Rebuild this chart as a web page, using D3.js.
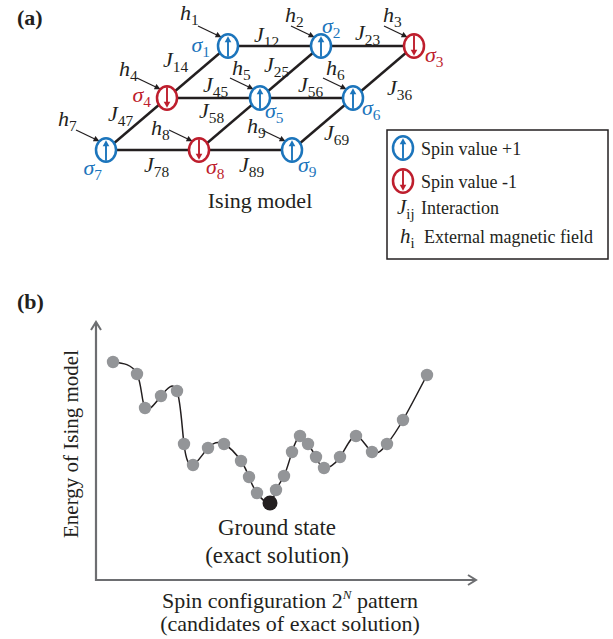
<!DOCTYPE html>
<html lang="en">
<head>
<meta charset="UTF-8">
<title>Ising model</title>
<style>
  body { margin: 0; background: #fff; }
  svg text { font-family: "Liberation Serif", "Times New Roman", serif; fill: #231f20; }
</style>
</head>
<body>
<svg id="fig" width="613" height="639"></svg>
<script src="https://d3js.org/d3.v7.min.js"></script>
<script>
// ---- panel (a) data ----
const spinIds   = [1, 2, 3, 4, 5, 6, 7, 8, 9];
const spinRows  = [0, 0, 0, 1, 1, 1, 2, 2, 2];
const spinCols  = [0, 1, 2, 0, 1, 2, 0, 1, 2];
const spinVals  = [1, 1, -1, -1, 1, 1, 1, -1, 1];
const couplings = [[1,2],[2,3],[4,5],[5,6],[7,8],[8,9],[1,4],[2,5],[3,6],[4,7],[5,8],[6,9]];
const legendLabels = ["Spin value +1", "Spin value -1", "Interaction", "External magnetic field"];

// ---- panel (b) data ----
const configs  = [17, 41, 49, 65, 81, 88, 97, 112, 128, 145, 153, 161, 174, 180, 188, 196, 204, 212, 220, 228, 244, 260, 276, 291, 307, 331];
const energies = [218, 206, 172, 184, 189, 136, 115, 132, 136, 119, 103, 87, 77, 90, 104, 128, 144, 136, 123, 112, 123, 144, 128, 136, 160, 205];
const groundIndex = 12;

const BLUE = "#1c75bc", RED = "#be1e2d", INK = "#231f20";
const svg = d3.select("#fig");

// defs: arrowhead for field arrows
svg.append("defs").append("marker")
  .attr("id", "head").attr("viewBox", "0 0 10 10")
  .attr("refX", 9).attr("refY", 5)
  .attr("markerWidth", 7).attr("markerHeight", 6)
  .attr("markerUnits", "userSpaceOnUse")
  .attr("orient", "auto")
  .append("path").attr("d", "M0,0L10,5L0,10z").attr("fill", INK);

// helper: italic symbol with upright subscript
function symbol(g, x, y, main, sub, color, size, anchor) {
  const t = g.append("text").attr("x", x).attr("y", y)
    .attr("text-anchor", anchor || "start")
    .style("fill", color || INK);
  t.append("tspan").text(main).style("font-style", "italic").style("font-size", (size || 21) + "px");
  t.append("tspan").text(sub).attr("dy", 5).style("font-size", ((size || 21) * 0.7) + "px");
  return t;
}

function spinIcon(g, x, y, val) {
  const color = val > 0 ? BLUE : RED;
  const rx = 10, ry = 11.7;
  g.append("ellipse").attr("cx", x).attr("cy", y).attr("rx", rx).attr("ry", ry)
    .attr("fill", "#fff").attr("stroke", color).attr("stroke-width", 2.5);
  const tip = y - val * (ry - 2), tail = y + val * (ry - 1);
  g.append("line").attr("x1", x).attr("y1", tail).attr("x2", x).attr("y2", tip + val * 4)
    .attr("stroke", color).attr("stroke-width", 1.9);
  g.append("path")
    .attr("d", `M${x - 3.3},${tip + val * 6}L${x + 3.3},${tip + val * 6}L${x},${tip}Z`)
    .attr("fill", color);
}

// ---- panel (a) ----
const ga = svg.append("g");
ga.append("text").attr("x", 17).attr("y", 25).text("(a)")
  .style("font-weight", "bold").style("font-size", "22px");

const colX  = d3.scaleLinear().domain([0, 2]).range([228, 414]);
const shift = d3.scaleLinear().domain([0, 2]).range([0, 122]);
const rowY  = d3.scaleLinear().domain([0, 2]).range([46, 150]);

const nodes = spinIds.map((id, i) => ({
  id, val: spinVals[i],
  x: colX(spinCols[i]) - shift(spinRows[i]),
  y: rowY(spinRows[i])
}));
const byId = id => nodes[id - 1];

ga.selectAll("line.edge").data(couplings).join("line").attr("class", "edge")
  .attr("x1", d => byId(d[0]).x).attr("y1", d => byId(d[0]).y)
  .attr("x2", d => byId(d[1]).x).attr("y2", d => byId(d[1]).y)
  .attr("stroke", INK).attr("stroke-width", 2.5);

// J label placement (offset from edge midpoint)
const jOffset = {
  "12": [-8, -4], "23": [0, -6], "45": [2, -6], "56": [4, -6],
  "78": [4, 22], "89": [6, 22],
  "14": [-22, -5], "25": [-14, 0], "36": [16, 23], "47": [-16, -3], "58": [-18, -6], "69": [14, 16]
};
couplings.forEach(([a, b]) => {
  const key = "" + a + b, m = [(byId(a).x + byId(b).x) / 2, (byId(a).y + byId(b).y) / 2];
  const o = jOffset[key];
  symbol(ga, m[0] + o[0], m[1] + o[1], "J", key, INK, 22, "middle");
});

// external field labels and arrows
const hOffset = [[-48, -26], [-36, -24], [-31, -24], [-48, -22], [-28, -23], [-27, -23], [-48, -24], [-48, -15], [-45, -17]];
nodes.forEach((n, i) => {
  symbol(ga, n.x + hOffset[i][0], n.y + hOffset[i][1], "h", String(n.id), INK, 22);
  ga.append("line")
    .attr("x1", n.x - 30).attr("y1", n.y - 20)
    .attr("x2", n.x - 7).attr("y2", n.y - 9)
    .attr("stroke", INK).attr("stroke-width", 1.3)
    .attr("marker-end", "url(#head)");
});

nodes.forEach(n => spinIcon(ga, n.x, n.y, n.val));

// sigma labels
const sOffset = [[-18, 6, "end"], [1, -13, "start"], [11, 16, "start"], [-16, 4, "end"], [5, 20, "start"],
                 [9, 17, "start"], [-4, 25, "end"], [7, 24, "start"], [6, 22, "start"]];
nodes.forEach((n, i) => {
  symbol(ga, n.x + sOffset[i][0], n.y + sOffset[i][1], "\u03c3", String(n.id), n.val > 0 ? BLUE : RED, 22, sOffset[i][2]);
});

ga.append("text").attr("x", 260).attr("y", 208).attr("text-anchor", "middle")
  .style("font-size", "22px").text("Ising model");

// legend
const lg = ga.append("g");
lg.append("rect").attr("x", 387).attr("y", 130).attr("width", 221).attr("height", 129)
  .attr("fill", "#fff").attr("stroke", INK).attr("stroke-width", 1.5);
spinIcon(lg, 403, 148, 1);
spinIcon(lg, 403, 181, -1);
lg.append("text").attr("x", 421).attr("y", 155).style("font-size", "18px").text(legendLabels[0]);
lg.append("text").attr("x", 421).attr("y", 188).style("font-size", "18px").text(legendLabels[1]);
symbol(lg, 397, 214, "J", "ij", INK, 21);
lg.append("text").attr("x", 421).attr("y", 214).style("font-size", "18px").text(legendLabels[2]);
symbol(lg, 400, 243, "h", "i", INK, 21);
lg.append("text").attr("x", 424).attr("y", 243).style("font-size", "18px").text(legendLabels[3]);

// ---- panel (b) ----
const gb = svg.append("g");
gb.append("text").attr("x", 17).attr("y", 309).text("(b)")
  .style("font-weight", "bold").style("font-size", "22px");

const x = d3.scaleLinear().domain([0, 380]).range([96, 476]);
const y = d3.scaleLinear().domain([0, 258]).range([580, 322]);
const AX = "#6d6e71";

gb.append("path")
  .attr("d", `M${x(0)},${y(258)}V${y(0)}H${x(380)}`)
  .attr("fill", "none").attr("stroke", AX).attr("stroke-width", 2.2);
gb.append("path")
  .attr("d", `M${x(0) - 5},${y(258) + 8}L${x(0)},${y(258)}L${x(0) + 5},${y(258) + 8}`)
  .attr("fill", "none").attr("stroke", AX).attr("stroke-width", 2);
gb.append("path")
  .attr("d", `M${x(380) - 8},${y(0) - 5}L${x(380)},${y(0)}L${x(380) - 8},${y(0) + 5}`)
  .attr("fill", "none").attr("stroke", AX).attr("stroke-width", 2);

const pts = configs.map((c, i) => ({ c, e: energies[i], ground: i === groundIndex }));
gb.append("path").datum(pts)
  .attr("d", d3.line().x(d => x(d.c)).y(d => y(d.e)).curve(d3.curveNatural))
  .attr("fill", "none").attr("stroke", INK).attr("stroke-width", 1.5);
gb.selectAll("circle.pt").data(pts).join("circle").attr("class", "pt")
  .attr("cx", d => x(d.c)).attr("cy", d => y(d.e))
  .attr("r", d => d.ground ? 7.5 : 6.2)
  .attr("fill", d => d.ground ? INK : "#939598");

gb.append("text").attr("x", 277).attr("y", 535).attr("text-anchor", "middle")
  .style("font-size", "23px").text("Ground state");
gb.append("text").attr("x", 277).attr("y", 563).attr("text-anchor", "middle")
  .style("font-size", "23px").text("(exact solution)");

gb.append("text").attr("transform", "translate(78,444) rotate(-90)")
  .attr("text-anchor", "middle").style("font-size", "21px").text("Energy of Ising model");

const xl = gb.append("text").attr("x", 290).attr("y", 608).attr("text-anchor", "middle")
  .style("font-size", "22px");
xl.append("tspan").text("Spin configuration 2");
xl.append("tspan").text("N").attr("dy", -9).style("font-size", "13px").style("font-style", "italic");
xl.append("tspan").text(" pattern").attr("dy", 9);
gb.append("text").attr("x", 290).attr("y", 631).attr("text-anchor", "middle")
  .style("font-size", "22px").text("(candidates of exact solution)");
</script>
</body>
</html>
